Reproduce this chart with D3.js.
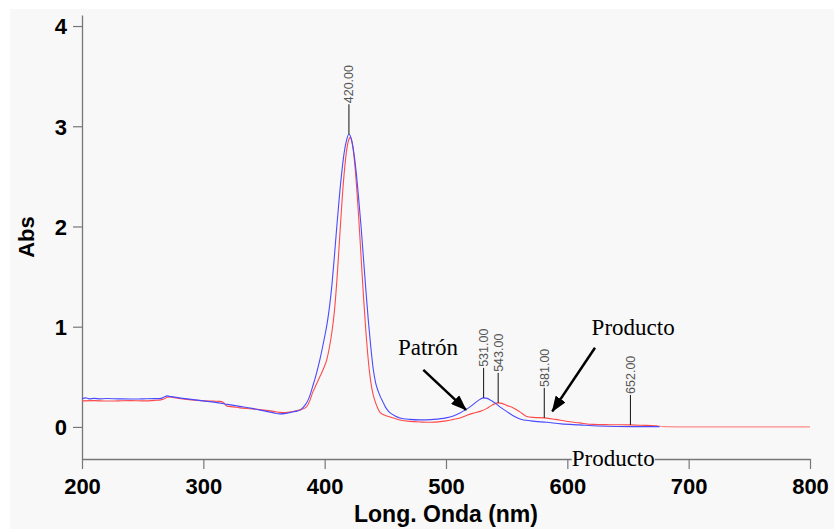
<!DOCTYPE html>
<html lang="es">
  <head>
    <meta charset="UTF-8" />
    <title>Espectro UV-Vis</title>
    <script src="https://d3js.org/d3.v7.min.js"></script>
    <style>
      body { margin: 0; background: #ffffff; }
      svg { display: block; }
    </style>
  </head>
  <body>
    <div id="chart"></div>
    <script>
      // Patrón (azul) - longitud de onda (nm) y absorbancia
      const waveBlue = [200,203,206,210,215,220,230,240,250,260,265,268,270,272,275,280,290,300,310,320,330,340,352,358,363,368,372,376,380,384,386,388,390,392,394,396,398,400,402,404,406,408,410,412,414,416,418,420,422,424,426,428,430,432,434,436,438,440,442,444,446,448,450,452,454,458,462,470,478.6,490,500,506,511.5,516,519.8,525,528,531,534,537,540.4,545,549.9,555,561,570,583,595,610,625,640,660,676];
      const absBlue = [0.28,0.29,0.28,0.285,0.28,0.283,0.28,0.278,0.28,0.282,0.285,0.30,0.31,0.305,0.30,0.29,0.275,0.26,0.245,0.225,0.205,0.185,0.155,0.14,0.13,0.135,0.145,0.155,0.17,0.22,0.26,0.32,0.40,0.48,0.57,0.67,0.78,0.9,1.03,1.2,1.42,1.7,2.0,2.28,2.53,2.73,2.86,2.92,2.87,2.74,2.54,2.28,2.0,1.68,1.36,1.06,0.8,0.58,0.44,0.36,0.3,0.25,0.2,0.165,0.14,0.11,0.09,0.075,0.07,0.075,0.09,0.11,0.14,0.17,0.2,0.25,0.275,0.29,0.285,0.265,0.24,0.195,0.155,0.115,0.08,0.06,0.046,0.03,0.02,0.01,0.005,0.003,0.003];

      // Producto (rojo)
      const waveRed = [200,210,220,230,240,250,260,265,268,270,272,275,280,290,300,308,314,317,319,325,330,340,352,358,363,368,372,376,380,385,388,390,393,396,399,401.7,404,406,408,410,412,414,416,418,420,421,422,424,426,428,430,432,434,436,438,440,442,444,446,450,454,462,470,480,487,494,500,506,511.5,516,522,528,533,537,540,543,546,550,555.5,561,566.5,572,581,590,599,610,621,635,652,665,674,680,700,750,800];
      const absRed = [0.26,0.262,0.258,0.26,0.262,0.26,0.265,0.27,0.28,0.295,0.30,0.295,0.285,0.27,0.26,0.257,0.255,0.24,0.21,0.2,0.19,0.18,0.165,0.155,0.145,0.143,0.15,0.16,0.17,0.2,0.27,0.34,0.42,0.5,0.58,0.67,0.8,0.95,1.15,1.45,1.82,2.2,2.52,2.75,2.87,2.89,2.87,2.72,2.45,2.1,1.7,1.3,0.95,0.66,0.45,0.32,0.24,0.18,0.14,0.115,0.1,0.07,0.055,0.048,0.046,0.05,0.06,0.075,0.09,0.11,0.135,0.155,0.18,0.21,0.23,0.24,0.235,0.215,0.19,0.15,0.105,0.095,0.09,0.075,0.056,0.04,0.025,0.022,0.02,0.015,0.012,0.003,0,0,0];

      // picos marcados
      const peakWave = [420, 531, 543, 581, 652];
      const peakAbs = [2.92, 0.29, 0.24, 0.09, 0.02];
      const peakText = ["420.00", "531.00", "543.00", "581.00", "652.00"];

      // textos y flechas
      const noteText = ["Patrón", "Producto", "Producto"];
      const noteWave = [460.4, 620, 603.6];
      const noteAbs = [0.72, 0.92, -0.385];
      const arrowFromWave = [481.3, 622.8];
      const arrowFromAbs = [0.57, 0.79];
      const arrowToWave = [516.5, 587.6];
      const arrowToAbs = [0.17, 0.155];

      const xTicks = [200, 300, 400, 500, 600, 700, 800];
      const yTicks = [0, 1, 2, 3, 4];

      const width = 834, height = 529;
      const plot = { left: 82, right: 810, top: 15, bottom: 459 };

      const svg = d3
        .select("#chart")
        .append("svg")
        .attr("width", width)
        .attr("height", height);

      // fondo gris claro
      svg
        .append("rect")
        .attr("x", 10)
        .attr("y", 9)
        .attr("width", width - 10)
        .attr("height", height - 9)
        .attr("fill", "#f8f8f8");

      const x = d3.scaleLinear().domain([200, 800]).range([plot.left, plot.right]);
      const y = d3.scaleLinear().domain([-0.32, 4.11]).range([plot.bottom, plot.top]);

      // ejes
      const gx = svg
        .append("g")
        .attr("transform", `translate(0,${plot.bottom})`)
        .call(d3.axisBottom(x).tickValues(xTicks).tickSize(10).tickSizeOuter(0).tickPadding(9));
      const gy = svg
        .append("g")
        .attr("transform", `translate(${plot.left},0)`)
        .call(
          d3.axisLeft(y).tickValues(yTicks).tickFormat(d3.format("d"))
            .tickSize(9).tickSizeOuter(0).tickPadding(6)
        );

      [gx, gy].forEach((g) => {
        g.select(".domain").attr("stroke", "#777").attr("stroke-width", 1.3);
        g.selectAll(".tick line").attr("stroke", "#777").attr("stroke-width", 1.2);
        g.selectAll(".tick text")
          .attr("fill", "#000")
          .attr("font-family", "'Liberation Sans', Arial, sans-serif")
          .attr("font-weight", "bold")
          .attr("font-size", 22);
      });
      gy.selectAll(".tick text").attr("dy", "0.36em");

      // títulos de ejes
      svg
        .append("text")
        .attr("x", (plot.left + plot.right) / 2)
        .attr("y", 522)
        .attr("text-anchor", "middle")
        .attr("font-family", "'Liberation Sans', Arial, sans-serif")
        .attr("font-weight", "bold")
        .attr("font-size", 23)
        .text("Long. Onda (nm)");

      svg
        .append("text")
        .attr("transform", `translate(34,${(plot.top + plot.bottom) / 2}) rotate(-90)`)
        .attr("text-anchor", "middle")
        .attr("font-family", "'Liberation Sans', Arial, sans-serif")
        .attr("font-weight", "bold")
        .attr("font-size", 22)
        .text("Abs");

      // curvas
      const blue = d3.zip(waveBlue, absBlue);
      const red = d3.zip(waveRed, absRed);

      const line = d3
        .line()
        .x((d) => x(d[0]))
        .y((d) => y(d[1]))
        .curve(d3.curveMonotoneX);

      svg
        .append("path")
        .datum(red.filter((d) => d[0] >= 674))
        .attr("d", line)
        .attr("fill", "none")
        .attr("stroke", "#ff8a8a")
        .attr("stroke-width", 1.2);

      svg
        .append("path")
        .datum(red.filter((d) => d[0] <= 674))
        .attr("d", line)
        .attr("fill", "none")
        .attr("stroke", "#ff4a4a")
        .attr("stroke-width", 1.1);

      svg
        .append("path")
        .datum(blue)
        .attr("d", line)
        .attr("fill", "none")
        .attr("stroke", "#4a4aff")
        .attr("stroke-width", 1.1);

      // marcas de picos
      const peaks = d3.zip(peakWave, peakAbs, peakText);
      const pk = svg.selectAll(".peak").data(peaks).join("g").attr("class", "peak");
      pk.append("line")
        .attr("x1", (d) => x(d[0]))
        .attr("x2", (d) => x(d[0]))
        .attr("y1", (d) => y(d[1]))
        .attr("y2", (d) => y(d[1]) - 30)
        .attr("stroke", "#111")
        .attr("stroke-width", 1);
      pk.append("text")
        .attr("transform", (d) => `translate(${x(d[0])},${y(d[1]) - 31}) rotate(-90)`)
        .attr("dy", "0.36em")
        .attr("font-family", "'Liberation Sans', Arial, sans-serif")
        .attr("font-size", 12.5)
        .attr("fill", "#555")
        .text((d) => d[2]);

      // flechas
      svg
        .append("defs")
        .append("marker")
        .attr("id", "head")
        .attr("viewBox", "0 0 16 12")
        .attr("refX", 15)
        .attr("refY", 6)
        .attr("markerWidth", 16)
        .attr("markerHeight", 12)
        .attr("markerUnits", "userSpaceOnUse")
        .attr("orient", "auto")
        .append("path")
        .attr("d", "M0,0 L16,6 L0,12 Z")
        .attr("fill", "#000");

      const arrows = d3.zip(arrowFromWave, arrowFromAbs, arrowToWave, arrowToAbs);
      svg
        .selectAll(".arrow")
        .data(arrows)
        .join("line")
        .attr("class", "arrow")
        .attr("x1", (d) => x(d[0]))
        .attr("y1", (d) => y(d[1]))
        .attr("x2", (d) => x(d[2]))
        .attr("y2", (d) => y(d[3]))
        .attr("stroke", "#000")
        .attr("stroke-width", 2.5)
        .attr("marker-end", "url(#head)");

      // textos
      const notes = d3.zip(noteText, noteWave, noteAbs);
      notes.forEach((d) => {
        const g = svg.append("g");
        const t = g
          .append("text")
          .attr("x", x(d[1]))
          .attr("y", y(d[2]))
          .attr("font-family", "'Liberation Serif', 'Times New Roman', serif")
          .attr("font-size", 23)
          .attr("fill", "#000")
          .text(d[0]);
        if (d[2] < 0) {
          const b = t.node().getBBox();
          g.insert("rect", "text")
            .attr("x", b.x)
            .attr("y", b.y + 4)
            .attr("width", b.width)
            .attr("height", b.height - 4)
            .attr("fill", "#f8f8f8");
        }
      });
    </script>
  </body>
</html>
